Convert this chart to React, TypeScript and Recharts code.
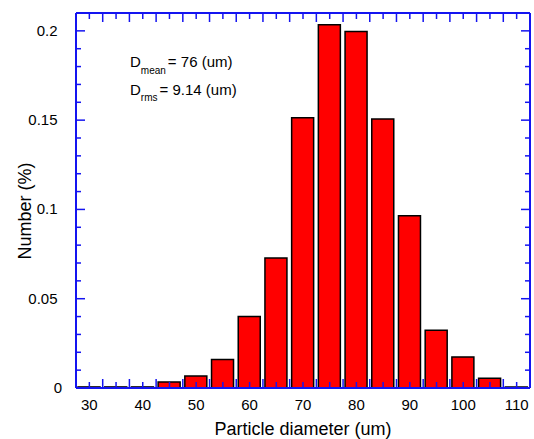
import * as React from 'react';
import { BarChart, Bar, XAxis, YAxis, Customized } from 'recharts';

// particle size histogram
const diameters = [30, 35, 40, 45, 50, 55, 60, 65, 70, 75, 80, 85, 90, 95, 100, 105, 110];
const numbers = [0.0006, 0.0006, 0.0006, 0.0034, 0.0067, 0.0159, 0.0401, 0.0728, 0.1513, 0.2034, 0.1997, 0.1507, 0.0964, 0.0323, 0.0174, 0.0054, 0.0006];

const xLabelTicks = [30, 40, 50, 60, 70, 80, 90, 100, 110];
const xShortTicks = [30, 35, 40, 45, 50, 55, 60, 65, 70, 75, 80, 85, 90, 95, 100, 105, 110];
const xLongTicks = [32.5, 37.5, 42.5, 47.5, 52.5, 57.5, 62.5, 67.5, 72.5, 77.5, 82.5, 87.5, 92.5, 97.5, 102.5, 107.5];
const yMajorTicks = [0, 0.05, 0.1, 0.15, 0.2];
const yMinorTicks = [0.01, 0.02, 0.03, 0.04, 0.06, 0.07, 0.08, 0.09, 0.11, 0.12, 0.13, 0.14, 0.16, 0.17, 0.18, 0.19];

const data = diameters.map((d, i) => ({ diameter: d, number: numbers[i] }));
const xAllTicks = [...xShortTicks, ...xLongTicks].sort((a, b) => a - b);
const yAllTicks = [...yMajorTicks, ...yMinorTicks].sort((a, b) => a - b);

const FONT = '"Liberation Sans", Arial, Helvetica, sans-serif';
const BLUE = '#1414f0';
const X_DOMAIN = [27.5, 112.5];
const Y_DOMAIN = [0, 0.21];
const W = 534;
const H = 439;
const MARGIN = { top: 12, right: 3, bottom: 0, left: 0 };

const isLongX = (v: number) => xLongTicks.includes(v);
const isMajorY = (v: number) => yMajorTicks.includes(v);

// bottom: inward tick + label
const BottomTick = (props: any) => {
  const { x, y, payload } = props;
  const v = payload.value;
  return (
    <g>
      <line x1={x} x2={x} y1={y} y2={y - (isLongX(v) ? 9 : 6)} stroke={BLUE} strokeWidth={1.5} />
      {xLabelTicks.includes(v) && (
        <text x={x} y={y + 21.5} textAnchor="middle" fontFamily={FONT} fontSize={15} fill="#000">{v}</text>
      )}
    </g>
  );
};

const TopTick = (props: any) => {
  const { x, y, payload } = props;
  return <line x1={x} x2={x} y1={y} y2={y + (isLongX(payload.value) ? 9 : 6)} stroke={BLUE} strokeWidth={1.5} />;
};

const LeftTick = (props: any) => {
  const { x, y, payload } = props;
  const v = payload.value;
  return (
    <g>
      <line x1={x} x2={x + (isMajorY(v) ? 9 : 5)} y1={y} y2={y} stroke={BLUE} strokeWidth={1.5} />
      {isMajorY(v) && (
        <text x={v === 0 ? x - 14 : x - 18.5} y={y + 5} textAnchor="end" fontFamily={FONT} fontSize={15} fill="#000">
          {String(v)}
        </text>
      )}
    </g>
  );
};

const RightTick = (props: any) => {
  const { x, y, payload } = props;
  return <line x1={x} x2={x - (isMajorY(payload.value) ? 9 : 5)} y1={y} y2={y} stroke={BLUE} strokeWidth={1.5} />;
};

const Texts = () => (
  <g fontFamily={FONT} fill="#000">
    <text x={130} y={67} fontSize={15}>
      D<tspan fontSize={10} dy={7}>mean</tspan>
      <tspan fontSize={15} dy={-7} dx={2}>= 76 (um)</tspan>
    </text>
    <text x={130} y={94.5} fontSize={15}>
      D<tspan fontSize={10} dy={6.5}>rms</tspan>
      <tspan fontSize={15} dy={-6.5} dx={2}>= 9.14 (um)</tspan>
    </text>
    <text x={303} y={435} fontSize={18} textAnchor="middle">Particle diameter (um)</text>
    <text x={31} y={211} fontSize={18} textAnchor="middle" transform="rotate(-90 31 211)">Number (%)</text>
  </g>
);

// axes are drawn in a second chart laid over the bars, so the inward ticks stay visible
export default function App() {
  const axisLine = { stroke: BLUE, strokeWidth: 2 };
  return (
    <div style={{ position: 'relative', width: W, height: H }}>
      <style>{'body{margin:0}'}</style>
      <BarChart width={W} height={H} data={data} margin={MARGIN}>
        <XAxis xAxisId="main" dataKey="diameter" type="number" domain={X_DOMAIN} allowDataOverflow
          height={51} tick={false} tickLine={false} axisLine={false} />
        <XAxis xAxisId="top" orientation="top" type="number" domain={X_DOMAIN} allowDataOverflow
          height={1} tick={false} tickLine={false} axisLine={false} />
        <YAxis yAxisId="main" type="number" domain={Y_DOMAIN} allowDataOverflow
          width={76} tick={false} tickLine={false} axisLine={false} />
        <YAxis yAxisId="right" orientation="right" type="number" domain={Y_DOMAIN} allowDataOverflow
          width={1} tick={false} tickLine={false} axisLine={false} />
        <Bar xAxisId="main" yAxisId="main" dataKey="number" barSize={22}
          fill="#ff0000" stroke="#000" strokeWidth={1.5} isAnimationActive={false} />
      </BarChart>

      <div style={{ position: 'absolute', left: 0, top: 0 }}>
        <BarChart width={W} height={H} data={data} margin={MARGIN}>
          <XAxis xAxisId="main" dataKey="diameter" type="number" domain={X_DOMAIN} allowDataOverflow
            ticks={xAllTicks} interval={0} height={51} tickSize={0} tickMargin={0} tickLine={false}
            axisLine={axisLine} tick={<BottomTick />} />
          <XAxis xAxisId="top" dataKey="diameter" orientation="top" type="number" domain={X_DOMAIN} allowDataOverflow
            ticks={xAllTicks} interval={0} height={1} tickSize={0} tickMargin={0} tickLine={false}
            axisLine={axisLine} tick={<TopTick />} />
          <YAxis yAxisId="main" type="number" domain={Y_DOMAIN} allowDataOverflow
            ticks={yAllTicks} interval={0} width={76} tickSize={0} tickMargin={0} tickLine={false}
            axisLine={axisLine} tick={<LeftTick />} />
          <YAxis yAxisId="right" orientation="right" type="number" domain={Y_DOMAIN} allowDataOverflow
            ticks={yAllTicks} interval={0} width={1} tickSize={0} tickMargin={0} tickLine={false}
            axisLine={axisLine} tick={<RightTick />} />
          <Customized component={<Texts />} />
        </BarChart>
      </div>
    </div>
  );
}
